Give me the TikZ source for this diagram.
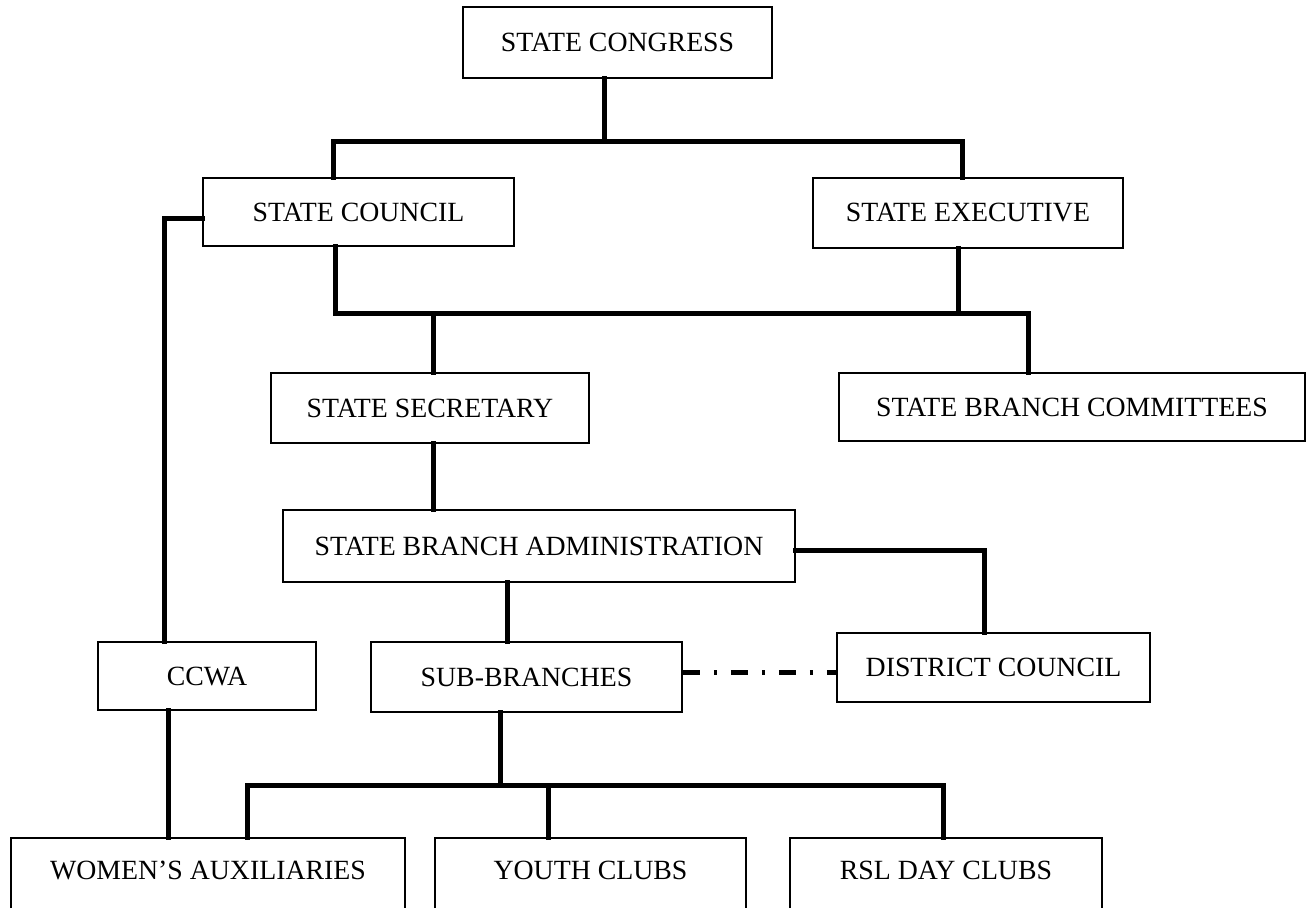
\documentclass[tikz,border=0pt]{standalone}
\usepackage{fontspec}
\setmainfont{Liberation Serif}
\begin{document}
\begin{tikzpicture}[x=1pt,y=-1pt,
  box/.style={draw=black, line width=1.5pt, inner sep=0pt, font=\fontsize{27.8pt}{30pt}\selectfont},
  textonly/.style={inner sep=0pt, font=\fontsize{27.8pt}{30pt}\selectfont},
  boxedge/.style={draw=black, line width=1.5pt},
  conn/.style={line width=5pt, line cap=rect},
  ddline/.style={line width=5pt, dash pattern=on 17pt off 14pt on 3pt off 14pt}]
\useasboundingbox (0,0) rectangle (1314,908);
\fill[white] (0,0) rectangle (1314,908);

% boxes
\node[box, minimum width=309pt, minimum height=71pt] (cong) at (617.5,42.5) {STATE CONGRESS};
\node[box, minimum width=311pt, minimum height=68pt] (council) at (358.5,212) {STATE COUNCIL};
\node[box, minimum width=310pt, minimum height=70pt] (exec) at (968,213) {STATE EXECUTIVE};
\node[box, minimum width=318pt, minimum height=70pt] (sec) at (430,408) {STATE SECRETARY};
\node[box, minimum width=466pt, minimum height=68pt] (comm) at (1072,407) {STATE BRANCH COMMITTEES};
\node[box, minimum width=512pt, minimum height=72pt] (sba) at (539,546) {STATE BRANCH ADMINISTRATION};
\node[box, minimum width=218pt, minimum height=68pt] (ccwa) at (207,676) {CCWA};
\node[box, minimum width=311pt, minimum height=70pt] (sub) at (526.5,677) {SUB-BRANCHES};
\node[box, minimum width=313pt, minimum height=69pt] (dist) at (993.5,667.5) {DISTRICT COUNCIL};
\node[textonly, minimum width=394pt, minimum height=64pt] (wom) at (208,870) {WOMEN’S AUXILIARIES};
\node[textonly, minimum width=311pt, minimum height=64pt] (youth) at (590.5,870) {YOUTH CLUBS};
\node[textonly, minimum width=312pt, minimum height=64pt] (rsl) at (946,870) {RSL DAY CLUBS};

% bottom boxes, cut by the lower edge of the picture
\coordinate (low) at (0,908);
\draw[boxedge] (wom.west |- low) -- (wom.north west) -- (wom.north east) -- (wom.east |- low);
\draw[boxedge] (youth.west |- low) -- (youth.north west) -- (youth.north east) -- (youth.east |- low);
\draw[boxedge] (rsl.west |- low) -- (rsl.north west) -- (rsl.north east) -- (rsl.east |- low);

% junction coordinates
\coordinate (j1) at (604,141);
\coordinate (xA) at (333,141);
\coordinate (xB) at (962,141);
\coordinate (yA) at (335,313);
\coordinate (yB) at (1028,313);
\coordinate (j2) at (958,313);
\coordinate (j3) at (433,313);
\coordinate (k1) at (984,550);
\coordinate (m1) at (507,600);
\coordinate (n1) at (164,218);
\coordinate (n2) at (168,780);
\coordinate (q0) at (500,785);
\coordinate (q1) at (247,785);
\coordinate (q2) at (548,785);
\coordinate (q3) at (943,785);
\coordinate (d1) at (700,672);

% connectors
\draw[conn] (cong.south -| j1) -- (j1);
\draw[conn] (council.north -| xA) -- (xA) -- (xB) -- (exec.north -| xB);
\draw[conn] (council.south -| yA) -- (yA) -- (yB) -- (comm.north -| yB);
\draw[conn] (exec.south -| j2) -- (j2);
\draw[conn] (j3) -- (sec.north -| j3);
\draw[conn] (sec.south -| j3) -- (sba.north -| j3);
\draw[conn] (sba.east |- k1) -- (k1) -- (dist.north -| k1);
\draw[conn] (sba.south -| m1) -- (sub.north -| m1);
\draw[conn] (council.west |- n1) -- (n1) -- (ccwa.north -| n1);
\draw[conn] (ccwa.south -| n2) -- (wom.north -| n2);
\draw[conn] (sub.south -| q0) -- (q0);
\draw[conn] (wom.north -| q1) -- (q1) -- (q3) -- (rsl.north -| q3);
\draw[conn] (q2) -- (youth.north -| q2);
\draw[ddline] (sub.east |- d1) -- (dist.west |- d1);
\end{tikzpicture}
\end{document}
